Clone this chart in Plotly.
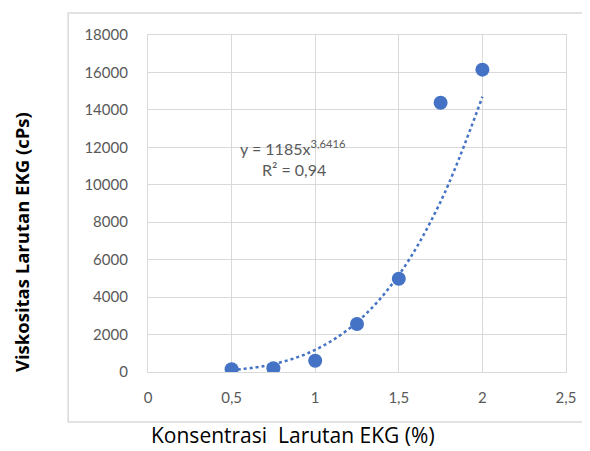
import plotly.graph_objects as go

konsentrasi = [0.5, 0.75, 1.0, 1.25, 1.5, 1.75, 2.0]
viskositas = [150, 200, 600, 2560, 4980, 14380, 16150]

# trendline values
trend_x = [0.5, 0.75, 1.0, 1.25, 1.5, 1.75, 2.0]
trend_y = [100, 420, 1180, 2660, 5180, 9100, 14700]

x_ticks = [0, 0.5, 1, 1.5, 2, 2.5]
x_tick_labels = ["0", "0,5", "1", "1,5", "2", "2,5"]
y_ticks = list(range(0, 18001, 2000))
y_tick_labels = [str(v) for v in y_ticks]

blue = "#4472C4"
grey_text = "#595959"
grid = "#D9D9D9"
FONT = "Lato, Open Sans, sans-serif"
TFONT = "Open Sans, Lato, sans-serif"

fig = go.Figure()
fig.add_trace(go.Scatter(
    x=trend_x, y=trend_y, mode="lines", line_shape="spline",
    line=dict(color=blue, width=2.5, dash="dot"), hoverinfo="skip",
))
fig.add_trace(go.Scatter(
    x=konsentrasi, y=viskositas, mode="markers",
    marker=dict(color=blue, size=14),
))

fig.add_annotation(
    x=0.215, y=0.667, xref="paper", yref="paper", xanchor="left", yanchor="middle",
    text="y = 1185x<sup>3,6416</sup>", showarrow=False,
    font=dict(family=FONT, size=16, color=grey_text),
)
fig.add_annotation(
    x=0.268, y=0.6, xref="paper", yref="paper", xanchor="left", yanchor="middle",
    text="R² = 0,94", showarrow=False,
    font=dict(family=FONT, size=16, color=grey_text),
)
# axis titles
fig.add_annotation(
    x=0.347, y=-0.188, xref="paper", yref="paper", xanchor="center", yanchor="middle",
    text="Konsentrasi  Larutan EKG (%)", showarrow=False,
    font=dict(family=TFONT, size=21, color="#000000"),
)
fig.add_annotation(
    x=-0.301, y=0.386, xref="paper", yref="paper", xanchor="center", yanchor="middle",
    text="<b>Viskositas Larutan EKG (cPs)</b>", showarrow=False, textangle=-90,
    font=dict(family=TFONT, size=18.5, color="#000000"),
)

fig.add_shape(type="rect", xref="paper", yref="paper",
              x0=-0.191, x1=1.055, y0=-0.148, y1=1.065,
              line=dict(color="#D9D9D9", width=1.5), layer="below")

# page body has an 8px margin; margins compensate so the plot lands where the reference has it
fig.update_layout(
    width=590, height=451,
    margin=dict(l=140, r=32, t=27, b=87),
    paper_bgcolor="white", plot_bgcolor="white",
    showlegend=False,
    font=dict(family=FONT, color=grey_text, size=15),
    xaxis=dict(
        range=[0, 2.5], tickvals=x_ticks, ticktext=x_tick_labels, automargin=False,
        showgrid=True, gridcolor=grid, gridwidth=1.2, zeroline=False,
        showline=True, linecolor=grid, linewidth=1.2, mirror=True,
        ticks="", tickfont=dict(family=FONT, size=15, color=grey_text),
        ticklabelstandoff=12,
    ),
    yaxis=dict(
        range=[0, 18000], tickvals=y_ticks, ticktext=y_tick_labels, automargin=False,
        showgrid=True, gridcolor=grid, gridwidth=1.2, zeroline=False,
        showline=True, linecolor=grid, linewidth=1.2, mirror=True,
        ticks="", tickfont=dict(family=FONT, size=15, color=grey_text),
        ticklabelstandoff=16,
    ),
)

fig.write_html("out.html")
